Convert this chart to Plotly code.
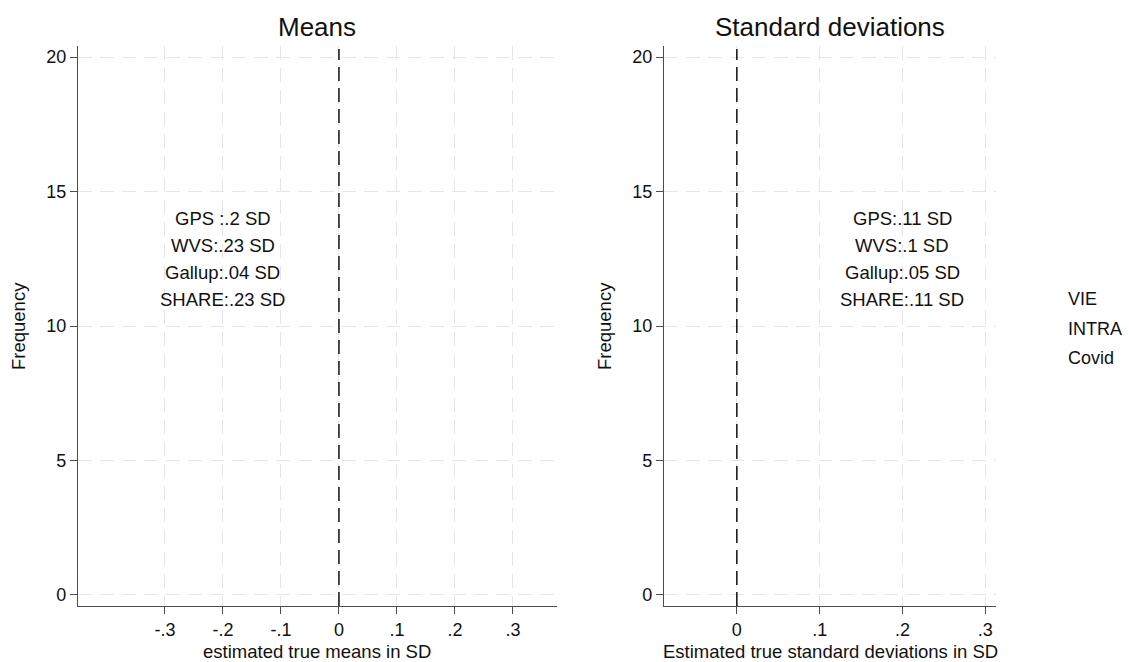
import plotly.graph_objects as go

# ---- data ----
mean_ticks = [-0.3, -0.2, -0.1, 0, 0.1, 0.2, 0.3]
mean_ticktext = ["-.3", "-.2", "-.1", "0", ".1", ".2", ".3"]
sd_ticks = [0, 0.1, 0.2, 0.3]
sd_ticktext = ["0", ".1", ".2", ".3"]
y_ticks = [0, 5, 10, 15, 20]
series_names = ["VIE", "INTRA", "Covid"]
mean_labels = ["GPS :.2 SD", "WVS:.23 SD", "Gallup:.04 SD", "SHARE:.23 SD"]
sd_labels = ["GPS:.11 SD", "WVS:.1 SD", "Gallup:.05 SD", "SHARE:.11 SD"]
label_rows = [14, 13, 12, 11]
mean_label_x = -0.2
sd_label_x = 0.2
ref_x = 0

W, H = 1129, 662
FONT = "Liberation Sans, Arial, sans-serif"
GRID = "#e6e6e6"
AX = "#4d4d4d"
TXT = "#111111"

def px_x(p):
    return p / W

def px_y(p):
    return 1 - p / H

fig = go.Figure()

for i, name in enumerate(series_names):
    fig.add_trace(go.Scatter(x=[None], y=[None], mode="markers", name=name,
                             marker=dict(color="rgba(0,0,0,0)", size=1),
                             legendgroup=name, showlegend=True,
                             xaxis="x", yaxis="y"))

common_y = dict(range=[-0.41, 20.41], tickvals=y_ticks, ticks="outside", ticklen=7,
                tickcolor=AX, showline=True, linecolor=AX, linewidth=1.2,
                showgrid=True, gridcolor=GRID, griddash="14px,8px", gridwidth=1,
                zeroline=False, tickfont=dict(size=18, color=TXT, family=FONT),
                automargin=False, fixedrange=True)
common_x = dict(ticks="outside", ticklen=7, tickcolor=AX, showline=True, linecolor=AX,
                linewidth=1.2, showgrid=True, gridcolor=GRID, griddash="14px,8px", gridwidth=1,
                zeroline=False, tickfont=dict(size=18, color=TXT, family=FONT),
                automargin=False, fixedrange=True)

fig.update_layout(
    width=W, height=H,
    margin=dict(l=0, r=0, t=0, b=0),
    paper_bgcolor="white", plot_bgcolor="white",
    font=dict(family=FONT, size=18, color=TXT),
    xaxis=dict(domain=[px_x(78), px_x(557)], range=[-0.45, 0.376],
               tickvals=mean_ticks, ticktext=mean_ticktext, anchor="y", **common_x),
    yaxis=dict(domain=[px_y(606), px_y(46)], anchor="x", **common_y),
    xaxis2=dict(domain=[px_x(664), px_x(996)], range=[-0.088, 0.313],
                tickvals=sd_ticks, ticktext=sd_ticktext, anchor="y2", **common_x),
    yaxis2=dict(domain=[px_y(606), px_y(46)], anchor="x2", **common_y),
    legend=dict(x=px_x(1028), y=px_y(280), xanchor="left", yanchor="top",
                font=dict(size=18, family=FONT, color=TXT),
                traceorder="grouped", tracegroupgap=3, itemwidth=30,
                bgcolor="rgba(0,0,0,0)"),
    showlegend=True,
)

fig.add_trace(go.Scatter(x=[None], y=[None], showlegend=False, xaxis="x2", yaxis="y2"))

# reference dashed lines at 0
for xr, yr in (("x", "y"), ("x2", "y2")):
    fig.add_shape(type="line", xref=xr, yref=yr, x0=ref_x, x1=ref_x, y0=-0.41, y1=20.3,
                  line=dict(color="black", width=1.4, dash="14px,7px"))

# text labels
for lab, yv in zip(mean_labels, label_rows):
    fig.add_annotation(x=mean_label_x, y=yv, xref="x", yref="y", text=lab, showarrow=False,
                       xanchor="center", yanchor="middle",
                       font=dict(size=18.5, family=FONT, color=TXT))
for lab, yv in zip(sd_labels, label_rows):
    fig.add_annotation(x=sd_label_x, y=yv, xref="x2", yref="y2", text=lab, showarrow=False,
                       xanchor="center", yanchor="middle",
                       font=dict(size=18.5, family=FONT, color=TXT))

def paper_text(xp, yp, text, size, angle=0):
    fig.add_annotation(x=px_x(xp), y=px_y(yp), xref="paper", yref="paper", text=text,
                       textangle=angle, showarrow=False, xanchor="center", yanchor="middle",
                       font=dict(size=size, family=FONT, color=TXT))

# titles
paper_text(317, 27, "Means", 26)
paper_text(830, 27, "Standard deviations", 26)
# axis titles
paper_text(317, 651, "estimated true means in SD", 18.5)
paper_text(830, 651, "Estimated true standard deviations in SD", 18.5)
paper_text(18, 326, "Frequency", 18.5, -90)
paper_text(604, 326, "Frequency", 18.5, -90)

fig.write_html("out.html", config={"displayModeBar": False},
               post_script="document.body.style.margin='0';")
